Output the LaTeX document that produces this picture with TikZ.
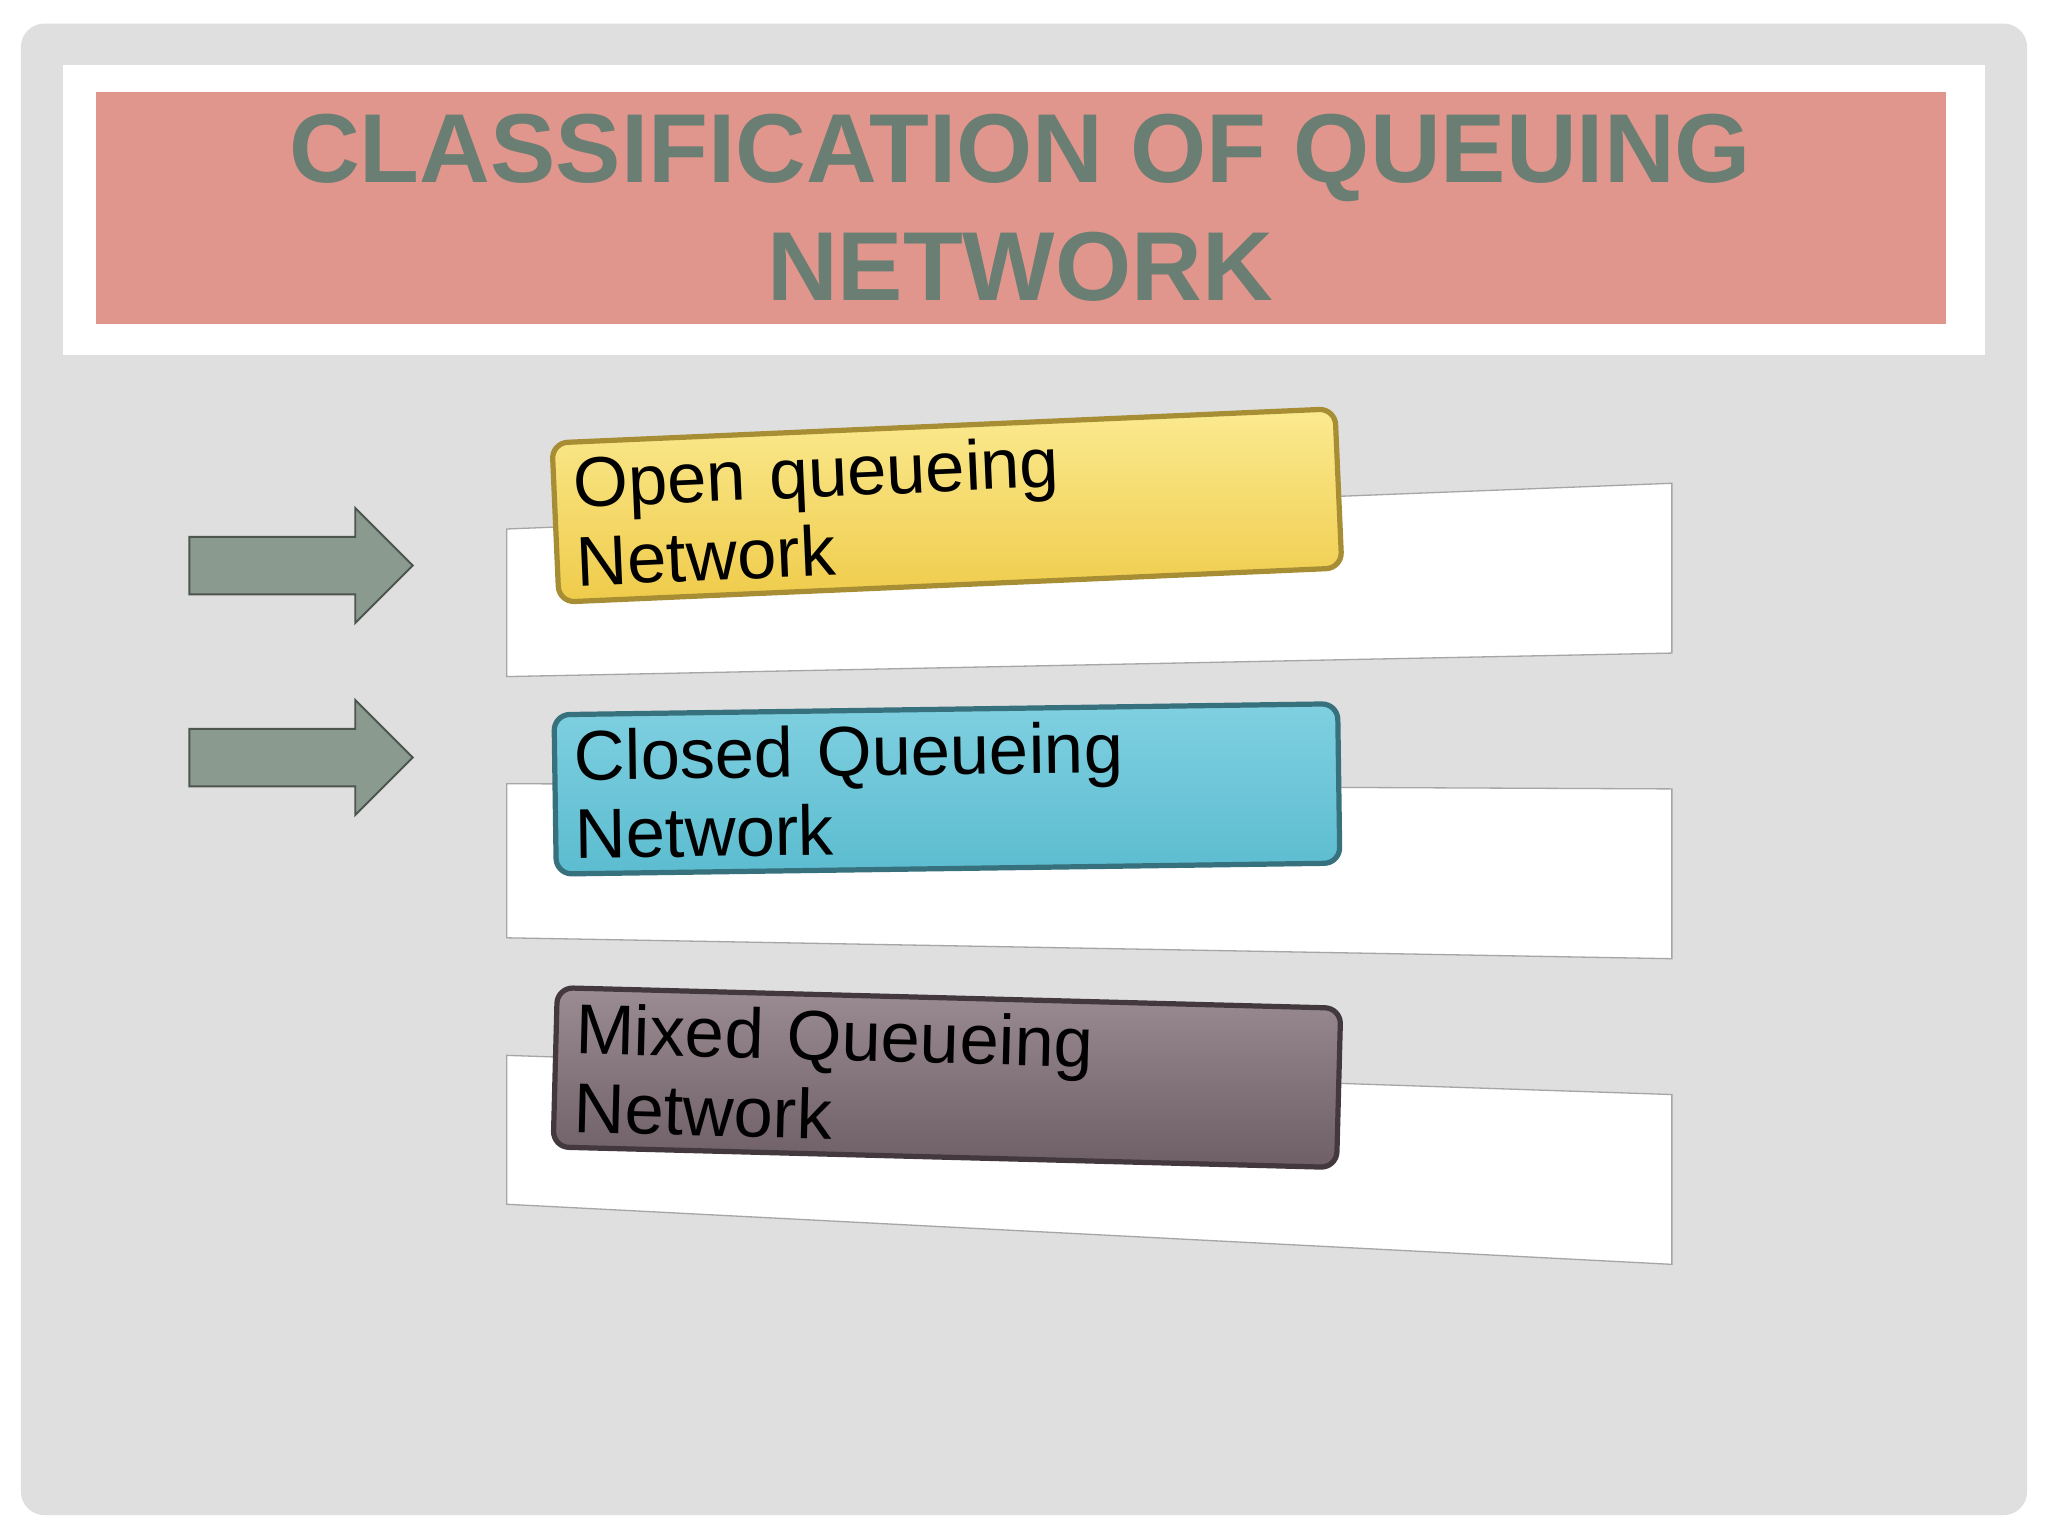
\documentclass[tikz,border=0pt]{standalone}
\usepackage{fontspec}
\setmainfont{Liberation Sans}
\definecolor{bgg}{HTML}{E0DFE0}
\definecolor{salmon}{HTML}{E0968C}
\definecolor{ttl}{HTML}{6A7E73}
\definecolor{arr}{HTML}{8A9A8E}
\definecolor{ytop}{HTML}{FBEA90}
\definecolor{ybot}{HTML}{EFCB4A}
\definecolor{ctop}{HTML}{7FD0E0}
\definecolor{cbot}{HTML}{5CBCD0}
\definecolor{mtop}{HTML}{9A8C92}
\definecolor{mbot}{HTML}{6E5E66}
\begin{document}
\begin{tikzpicture}[x=1pt,y=-1pt,
 panel/.style={fill=white,draw=gray!70,line width=1pt},
 bigarrow/.style={draw=arr!55!black,line width=1.5pt,fill=arr},
 qbox/.style={rounded corners=12pt,line width=4pt,minimum width=600pt,minimum height=122pt,text width=570pt,align=left,font=\fontsize{54}{60}\selectfont,inner sep=0pt,text=black}]
\useasboundingbox (0,0) rectangle (1568,1176);
\fill[white] (0,0) rectangle (1568,1176);
\fill[bgg,rounded corners=18pt] (16,18) rectangle (1552,1160);
\fill[white] (48,50) rectangle (1520,272);
\node[fill=salmon,minimum width=1417pt,minimum height=178pt,inner sep=0pt,anchor=north west] (title) at (73,70) {};
\node[text=ttl,font=\fontsize{75}{90}\selectfont\bfseries,align=center] (tt) at (781,159) {CLASSIFICATION OF QUEUING\\NETWORK};
\draw[panel] (388,405) coordinate (p1a) -- (1280,370) -- (1280,500) -- (388,518) -- cycle;
\draw[panel] (388,600) coordinate (p2a) -- (1280,604) -- (1280,734) -- (388,718) -- cycle;
\draw[panel] (388,808) coordinate (p3a) -- (1280,838) -- (1280,968) -- (388,922) -- cycle;
\foreach \n/\y in {a1/433,a2/580}{
 \coordinate (\n) at (231,\y);
 \draw[bigarrow] ([shift={(-86,-22)}]\n) -- ([shift={(41,-22)}]\n) -- ([shift={(41,-44)}]\n) -- ([shift={(85,0)}]\n) -- ([shift={(41,44)}]\n) -- ([shift={(41,22)}]\n) -- ([shift={(-86,22)}]\n) -- cycle;
}
\node[qbox,draw=ybot!70!black,top color=ytop,bottom color=ybot,rotate=2.5] (b1) at (725,387) {Open queueing\\Network};
\node[qbox,draw=cbot!60!black,top color=ctop,bottom color=cbot,rotate=0.8] (b2) at (725,604) {Closed Queueing\\Network};
\node[qbox,draw=mbot!60!black,top color=mtop,bottom color=mbot,rotate=-1.5] (b3) at (725,825) {Mixed Queueing\\Network};
\end{tikzpicture}
\end{document}
